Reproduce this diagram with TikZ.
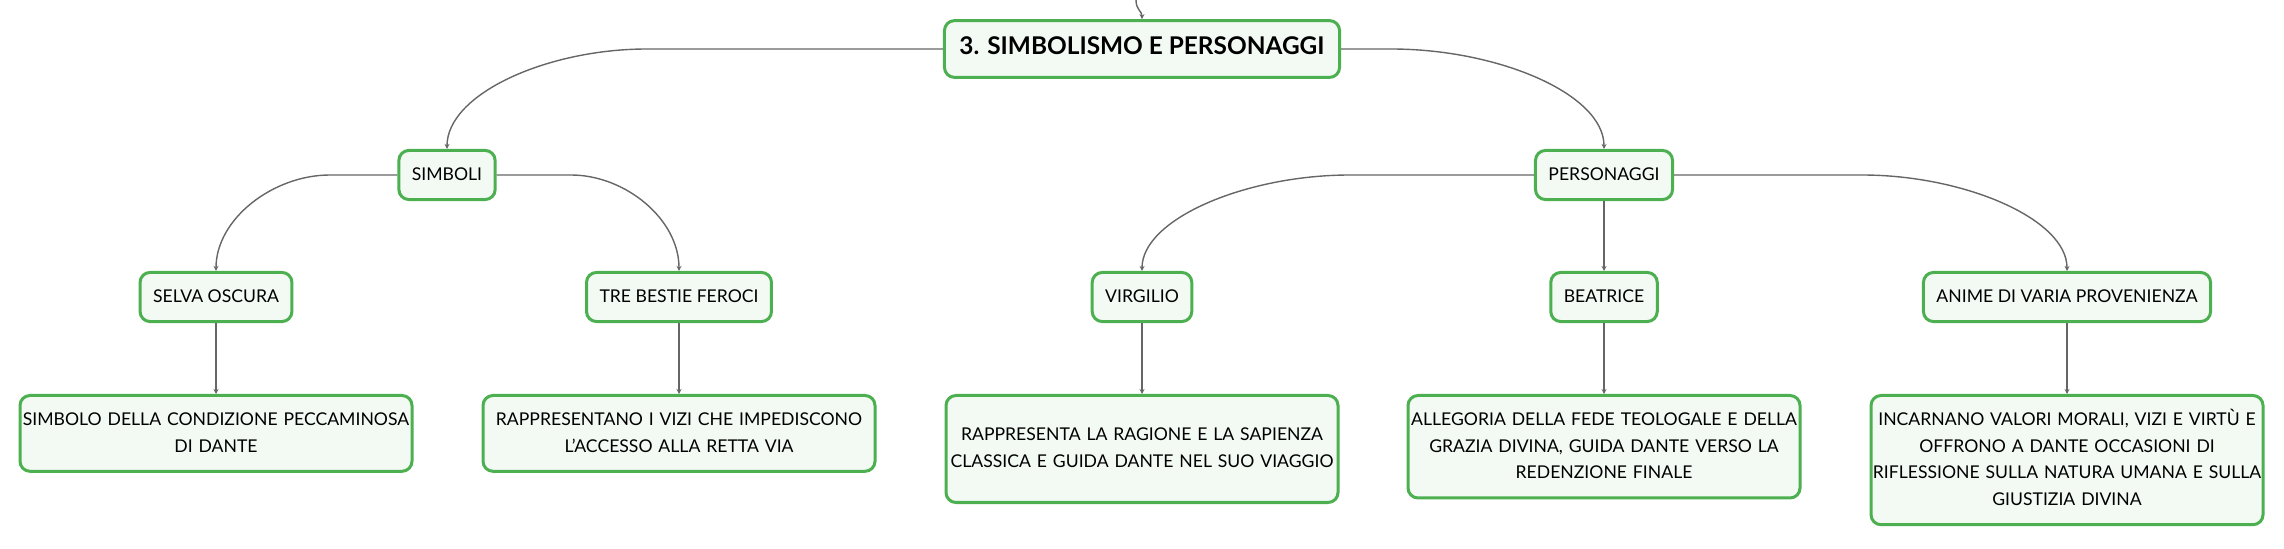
\documentclass[tikz,border=0pt]{standalone}
\usepackage{fontspec}
\setmainfont{Lato}
\usetikzlibrary{arrows.meta,calc}
\definecolor{boxgreen}{RGB}{76,175,80}
\definecolor{boxfill}{RGB}{243,250,244}
\definecolor{linkgray}{RGB}{102,102,102}
\newcommand\mapfont{\fontsize{8.8}{13.35}\selectfont}
\tikzset{
  box/.style={draw=boxgreen, fill=boxfill, line width=1.5pt, rounded corners=5pt,
    font=\mapfont, inner xsep=6.5pt, inner ysep=5.6pt, execute at begin node=\strut},
  topic/.style={box, font=\fontsize{12.2}{15}\selectfont\bfseries, inner xsep=7.5pt, inner ysep=6.7pt},
  leaf/.style={box, anchor=north, text width=196pt, align=center, inner xsep=0pt,
    execute at end node=\strut},
  link/.style={draw=linkgray, line width=0.7pt, -{Stealth[length=2.5pt,width=2.5pt]}}
}
\begin{document}
\begin{tikzpicture}[x=0.5pt,y=-0.5pt]
  \useasboundingbox (0,0) rectangle (2284,549);
  \coordinate (up) at (1136,0);
  \node[topic] (root) at (1142,49) {3. SIMBOLISMO E PERSONAGGI};
  % first level
  \node[box] (simboli) at (447,175) {SIMBOLI};
  \node[box] (personaggi) at (1604,175) {PERSONAGGI};
  % second level
  \node[box] (selva) at (216,297) {SELVA OSCURA};
  \node[box] (bestie) at (679,297) {TRE BESTIE FEROCI};
  \node[box] (virgilio) at (1142,297) {VIRGILIO};
  \node[box] (beatrice) at (1604,297) {BEATRICE};
  \node[box] (anime) at (2067,297) {ANIME DI VARIA PROVENIENZA};
  % descriptions
  \node[leaf] (peccato) at (216,394) {SIMBOLO DELLA CONDIZIONE PECCAMINOSA\\DI DANTE};
  \node[leaf] (vizi) at (679,394) {RAPPRESENTANO I VIZI CHE IMPEDISCONO\\L'ACCESSO ALLA RETTA VIA};
  \node[leaf, minimum height=53.5pt] (ragione) at (1142,394) {RAPPRESENTA LA RAGIONE E LA SAPIENZA\\CLASSICA E GUIDA DANTE NEL SUO VIAGGIO};
  \node[leaf] (fede) at (1604,394) {ALLEGORIA DELLA FEDE TEOLOGALE E DELLA\\GRAZIA DIVINA, GUIDA DANTE VERSO LA\\REDENZIONE FINALE};
  \node[leaf] (valori) at (2067,394) {INCARNANO VALORI MORALI, VIZI E VIRTÙ E\\OFFRONO A DANTE OCCASIONI DI\\RIFLESSIONE SULLA NATURA UMANA E SULLA\\GIUSTIZIA DIVINA};
  \begin{scope}[link]
    \draw (up) .. controls +(0,10) and +(0,-8) .. (root.north);
    \draw (root.west) -- ($(simboli.north |- root.west)+(200,0)$) .. controls +(-100,0) and +(0,-55) .. (simboli.north);
    \draw (root.east) -- ($(personaggi.north |- root.east)+(-213,0)$) .. controls +(107,0) and +(0,-55) .. (personaggi.north);
    \draw (simboli.west) -- ($(selva.north |- simboli.west)+(114,0)$) .. controls +(-57,0) and +(0,-52) .. (selva.north);
    \draw (simboli.east) -- ($(bestie.north |- simboli.east)+(-108,0)$) .. controls +(54,0) and +(0,-52) .. (bestie.north);
    \draw (personaggi.west) -- ($(virgilio.north |- personaggi.west)+(208,0)$) .. controls +(-104,0) and +(0,-52) .. (virgilio.north);
    \draw (personaggi.east) -- ($(anime.north |- personaggi.east)+(-205,0)$) .. controls +(102,0) and +(0,-52) .. (anime.north);
    \draw (personaggi.south) -- (beatrice.north);
    \draw (selva.south) -- (peccato.north);
    \draw (bestie.south) -- (vizi.north);
    \draw (virgilio.south) -- (ragione.north);
    \draw (beatrice.south) -- (fede.north);
    \draw (anime.south) -- (valori.north);
  \end{scope}
\end{tikzpicture}
\end{document}
